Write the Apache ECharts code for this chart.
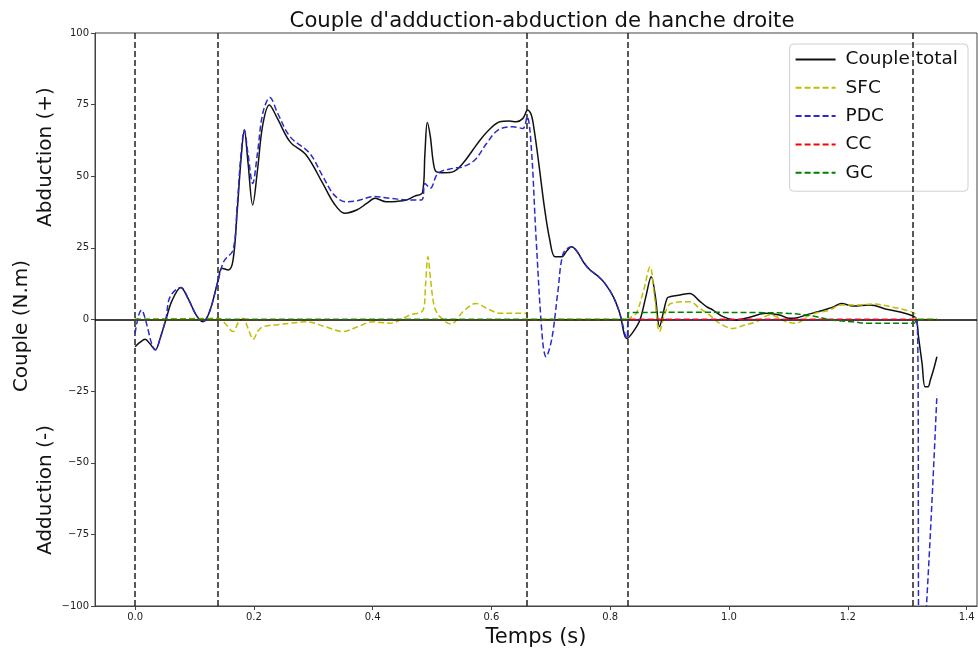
<!DOCTYPE html>
<html><head><meta charset="utf-8">
<script src="https://cdn.jsdelivr.net/npm/echarts@6/dist/echarts.min.js"></script>
<style>html,body{margin:0;padding:0;background:#fff}#c{width:978px;height:654px}</style>
</head><body><div id="c"></div>
<script>
// ---- DATA ----
const totalT = [0.000,0.008,0.017,0.025,0.034,0.043,0.052,0.062,0.077,0.090,0.103,0.114,0.125,0.140,0.146,0.157,0.165,0.172,0.178,0.184,0.190,0.198,0.206,0.215,0.226,0.240,0.261,0.288,0.316,0.335,0.353,0.373,0.390,0.404,0.423,0.440,0.457,0.470,0.484,0.488,0.492,0.497,0.502,0.507,0.520,0.536,0.552,0.568,0.583,0.600,0.614,0.630,0.642,0.653,0.661,0.667,0.672,0.680,0.689,0.698,0.707,0.718,0.727,0.735,0.745,0.755,0.766,0.780,0.791,0.805,0.816,0.828,0.838,0.850,0.860,0.869,0.876,0.883,0.890,0.896,0.902,0.915,0.934,0.950,0.962,0.973,0.990,1.012,1.035,1.062,1.085,1.102,1.115,1.130,1.148,1.164,1.177,1.189,1.209,1.237,1.265,1.290,1.312,1.316,1.319,1.325,1.330,1.335,1.339,1.345,1.350];
const totalV = [-9.5,-8.0,-6.9,-8.5,-10.6,-6,0,6.5,11.2,7,1.5,-0.8,2.5,13.8,17.9,17.3,20.8,38,55,66.1,55,40,52,68,74.9,70,62,57.4,47.5,40.5,37.1,38.2,40.5,42.3,41.1,41.2,41.7,43,44.4,58,68.8,64,55,51.6,51.2,51.6,54.5,59,63.2,67,69,69.3,69,70.2,73.1,71.5,66.1,54,39.4,28,21.9,21.9,24,25.4,23.5,20,17.3,15,12.6,8,2.2,-6.6,-4.5,-0.2,8,14.9,8,-2.5,3,7.5,8,8.5,9.1,6.5,4.5,3.3,1,-0.2,0.8,2.2,1.6,0.4,0.6,1.6,2.6,3.6,4.5,5.6,4.7,5.1,3.6,2.5,1,-0.2,-6,-15.3,-23.5,-23.5,-21.1,-17,-13];

const sfcT = [0.000,0.140,0.152,0.165,0.174,0.182,0.190,0.199,0.207,0.216,0.240,0.261,0.289,0.320,0.350,0.375,0.400,0.429,0.463,0.485,0.489,0.493,0.498,0.504,0.513,0.532,0.552,0.574,0.592,0.614,0.653,0.660,0.661,0.829,0.836,0.844,0.856,0.867,0.875,0.883,0.892,0.902,0.934,0.950,0.967,0.985,1.007,1.025,1.046,1.069,1.085,1.096,1.113,1.136,1.169,1.189,1.220,1.242,1.276,1.312,1.316,1.350];
const sfcV = [0,0.4,-1.5,-4.2,-1,0.4,-3,-6.9,-4,-2.5,-1.8,-1.3,-0.8,-2.5,-4.2,-2.5,-0.8,-1.3,1.6,3.3,12,21.9,13,4.5,1,-1.6,2.7,5.6,3.9,2.2,2.2,2,0,0,1,2.2,10,18.4,7,-4.2,2,5.6,6.2,4,1.6,-1.5,-3.1,-2,-0.8,1.6,0.5,-0.8,-1.3,1.6,3.3,5.1,5.1,5.4,4.3,2.2,0,0];

const pdcT = [0.000,0.006,0.011,0.016,0.022,0.028,0.034,0.043,0.052,0.059,0.077,0.090,0.103,0.114,0.125,0.140,0.146,0.151,0.165,0.172,0.178,0.184,0.190,0.198,0.206,0.215,0.227,0.240,0.261,0.294,0.316,0.335,0.355,0.375,0.401,0.429,0.455,0.482,0.488,0.497,0.510,0.536,0.552,0.572,0.592,0.611,0.636,0.653,0.660,0.667,0.675,0.686,0.692,0.698,0.704,0.712,0.721,0.735,0.745,0.755,0.766,0.780,0.791,0.805,0.816,0.828,0.831,1.316,1.321,1.330,1.350];
const pdcV = [-4.8,1.5,3.3,1,-3.7,-8.5,-10.6,-6,0.5,8,11.2,7,1.5,-0.8,2.5,13.8,18.5,20.8,24.3,40,57,66.1,58,47.5,58,72,77.5,72,63.8,58,50,43.5,41.1,41.5,42.9,42.3,41.8,41.7,47.5,45.8,51,52.8,53.3,55.7,61.5,66.1,67.3,66.7,70.8,60.3,28.9,-7.2,-13,-10,-3.7,10,23.1,25.4,23.5,20,17.3,15,12.6,8,2.2,-6.6,0,0,-120,-108,-26.4];

const ccT = [0.000,1.350];
const ccV = [0,0];

const gcT = [0.000,0.830,0.831,0.950,1.050,1.096,1.141,1.174,1.209,1.231,1.312,1.316,1.350];
const gcV = [0,0,2.4,2.5,2.4,2.2,1.2,-0.2,-0.8,-1.3,-1.3,0,0];

const phaseTimes = [0, 0.14, 0.66, 0.83, 1.315];
const xTicks = [0.0,0.2,0.4,0.6,0.8,1.0,1.2,1.4];
const seriesNames = ['Couple total','SFC','PDC','CC','GC'];

// ---- CHART ----
const zip = (t, v) => t.map((x, i) => [x, v[i]]);
const FONT = '"DejaVu Sans", sans-serif';
const chart = echarts.init(document.getElementById('c'), null, {renderer: 'canvas'});

function lineSeries(name, t, v, color, dashed, z) {
  return {
    name, type: 'line', data: zip(t, v), symbol: 'none', showSymbol: false,
    smooth: 0.35, z, clip: true, animation: false,
    lineStyle: {color, width: 1.5, type: dashed ? [6, 3] : 'solid'},
    itemStyle: {color}
  };
}

const option = {
  animation: false,
  backgroundColor: '#fff',
  title: {
    text: "Couple d'adduction-abduction de hanche droite",
    left: 537, top: 6, textAlign: 'center',
    textStyle: {fontFamily: FONT, fontSize: 21.2, fontWeight: 'normal', color: '#111'}
  },
  grid: {left: 95, right: 1, top: 33, bottom: 48, show: true, borderColor: '#444', borderWidth: 1, backgroundColor: 'transparent'},
  legend: {
    data: seriesNames, orient: 'vertical', right: 10, top: 44,
    itemWidth: 40, itemHeight: 14, itemGap: 9.3,
    itemStyle: {opacity: 0, borderWidth: 0},
    backgroundColor: 'rgba(255,255,255,0.85)', borderColor: '#d0d0d0', borderWidth: 1, borderRadius: 4,
    padding: [6, 10, 9, 5],
    textStyle: {fontFamily: FONT, fontSize: 18.5, color: '#111', padding: [0, 0, 0, 5]}
  },
  xAxis: {
    type: 'value', min: -0.0675, max: 1.4175,
    name: 'Temps (s)', nameLocation: 'middle', nameGap: 19,
    nameTextStyle: {fontFamily: FONT, fontSize: 21, color: '#111'},
    splitLine: {show: false},
    axisLine: {show: true, onZero: false, lineStyle: {color: '#444', width: 1}},
    axisTick: {show: true, length: 4, customValues: xTicks, lineStyle: {color: '#444'}},
    axisLabel: {customValues: xTicks, fontFamily: FONT, fontSize: 10, color: '#222', margin: 6,
      formatter: v => Number(v).toFixed(1)}
  },
  yAxis: {
    type: 'value', min: -100, max: 100, interval: 25,
    splitLine: {show: false},
    axisLine: {show: true, onZero: false, lineStyle: {color: '#444', width: 1}},
    axisTick: {show: true, length: 4, lineStyle: {color: '#444'}},
    axisLabel: {fontFamily: FONT, fontSize: 10, color: '#222', margin: 6,
      formatter: v => v < 0 ? '\u2212' + Math.abs(v) : String(v)}
  },
  graphic: [
    {type: 'text', x: 46, y: 157, rotation: Math.PI / 2, style: {text: 'Abduction (+)', font: '20px ' + FONT, fill: '#111', align: 'center', verticalAlign: 'middle'}},
    {type: 'text', x: 22, y: 326, rotation: Math.PI / 2, style: {text: 'Couple (N.m)', font: '20px ' + FONT, fill: '#111', align: 'center', verticalAlign: 'middle'}},
    {type: 'text', x: 46, y: 490, rotation: Math.PI / 2, style: {text: 'Adduction (-)', font: '20px ' + FONT, fill: '#111', align: 'center', verticalAlign: 'middle'}}
  ],
  series: [
    lineSeries('Couple total', totalT, totalV, '#111111', false, 3),
    lineSeries('SFC', sfcT, sfcV, '#bfbf00', true, 4),
    lineSeries('PDC', pdcT, pdcV, '#2a2ad0', true, 5),
    lineSeries('CC', ccT, ccV, '#ff0000', true, 6),
    lineSeries('GC', gcT, gcV, '#008000', true, 7),
    {
      name: '_ref', type: 'line', data: [], z: 10, symbol: 'none', animation: false,
      markLine: {
        silent: true, symbol: ['none', 'none'], label: {show: false}, animation: false,
        data: phaseTimes.map(t => ({xAxis: t, lineStyle: {type: [6, 3], color: '#222', width: 1.5}}))
          .concat([{yAxis: 0, lineStyle: {type: 'solid', color: '#000', width: 1.5}}])
      }
    }
  ]
};
chart.setOption(option);
</script>
</body></html>
